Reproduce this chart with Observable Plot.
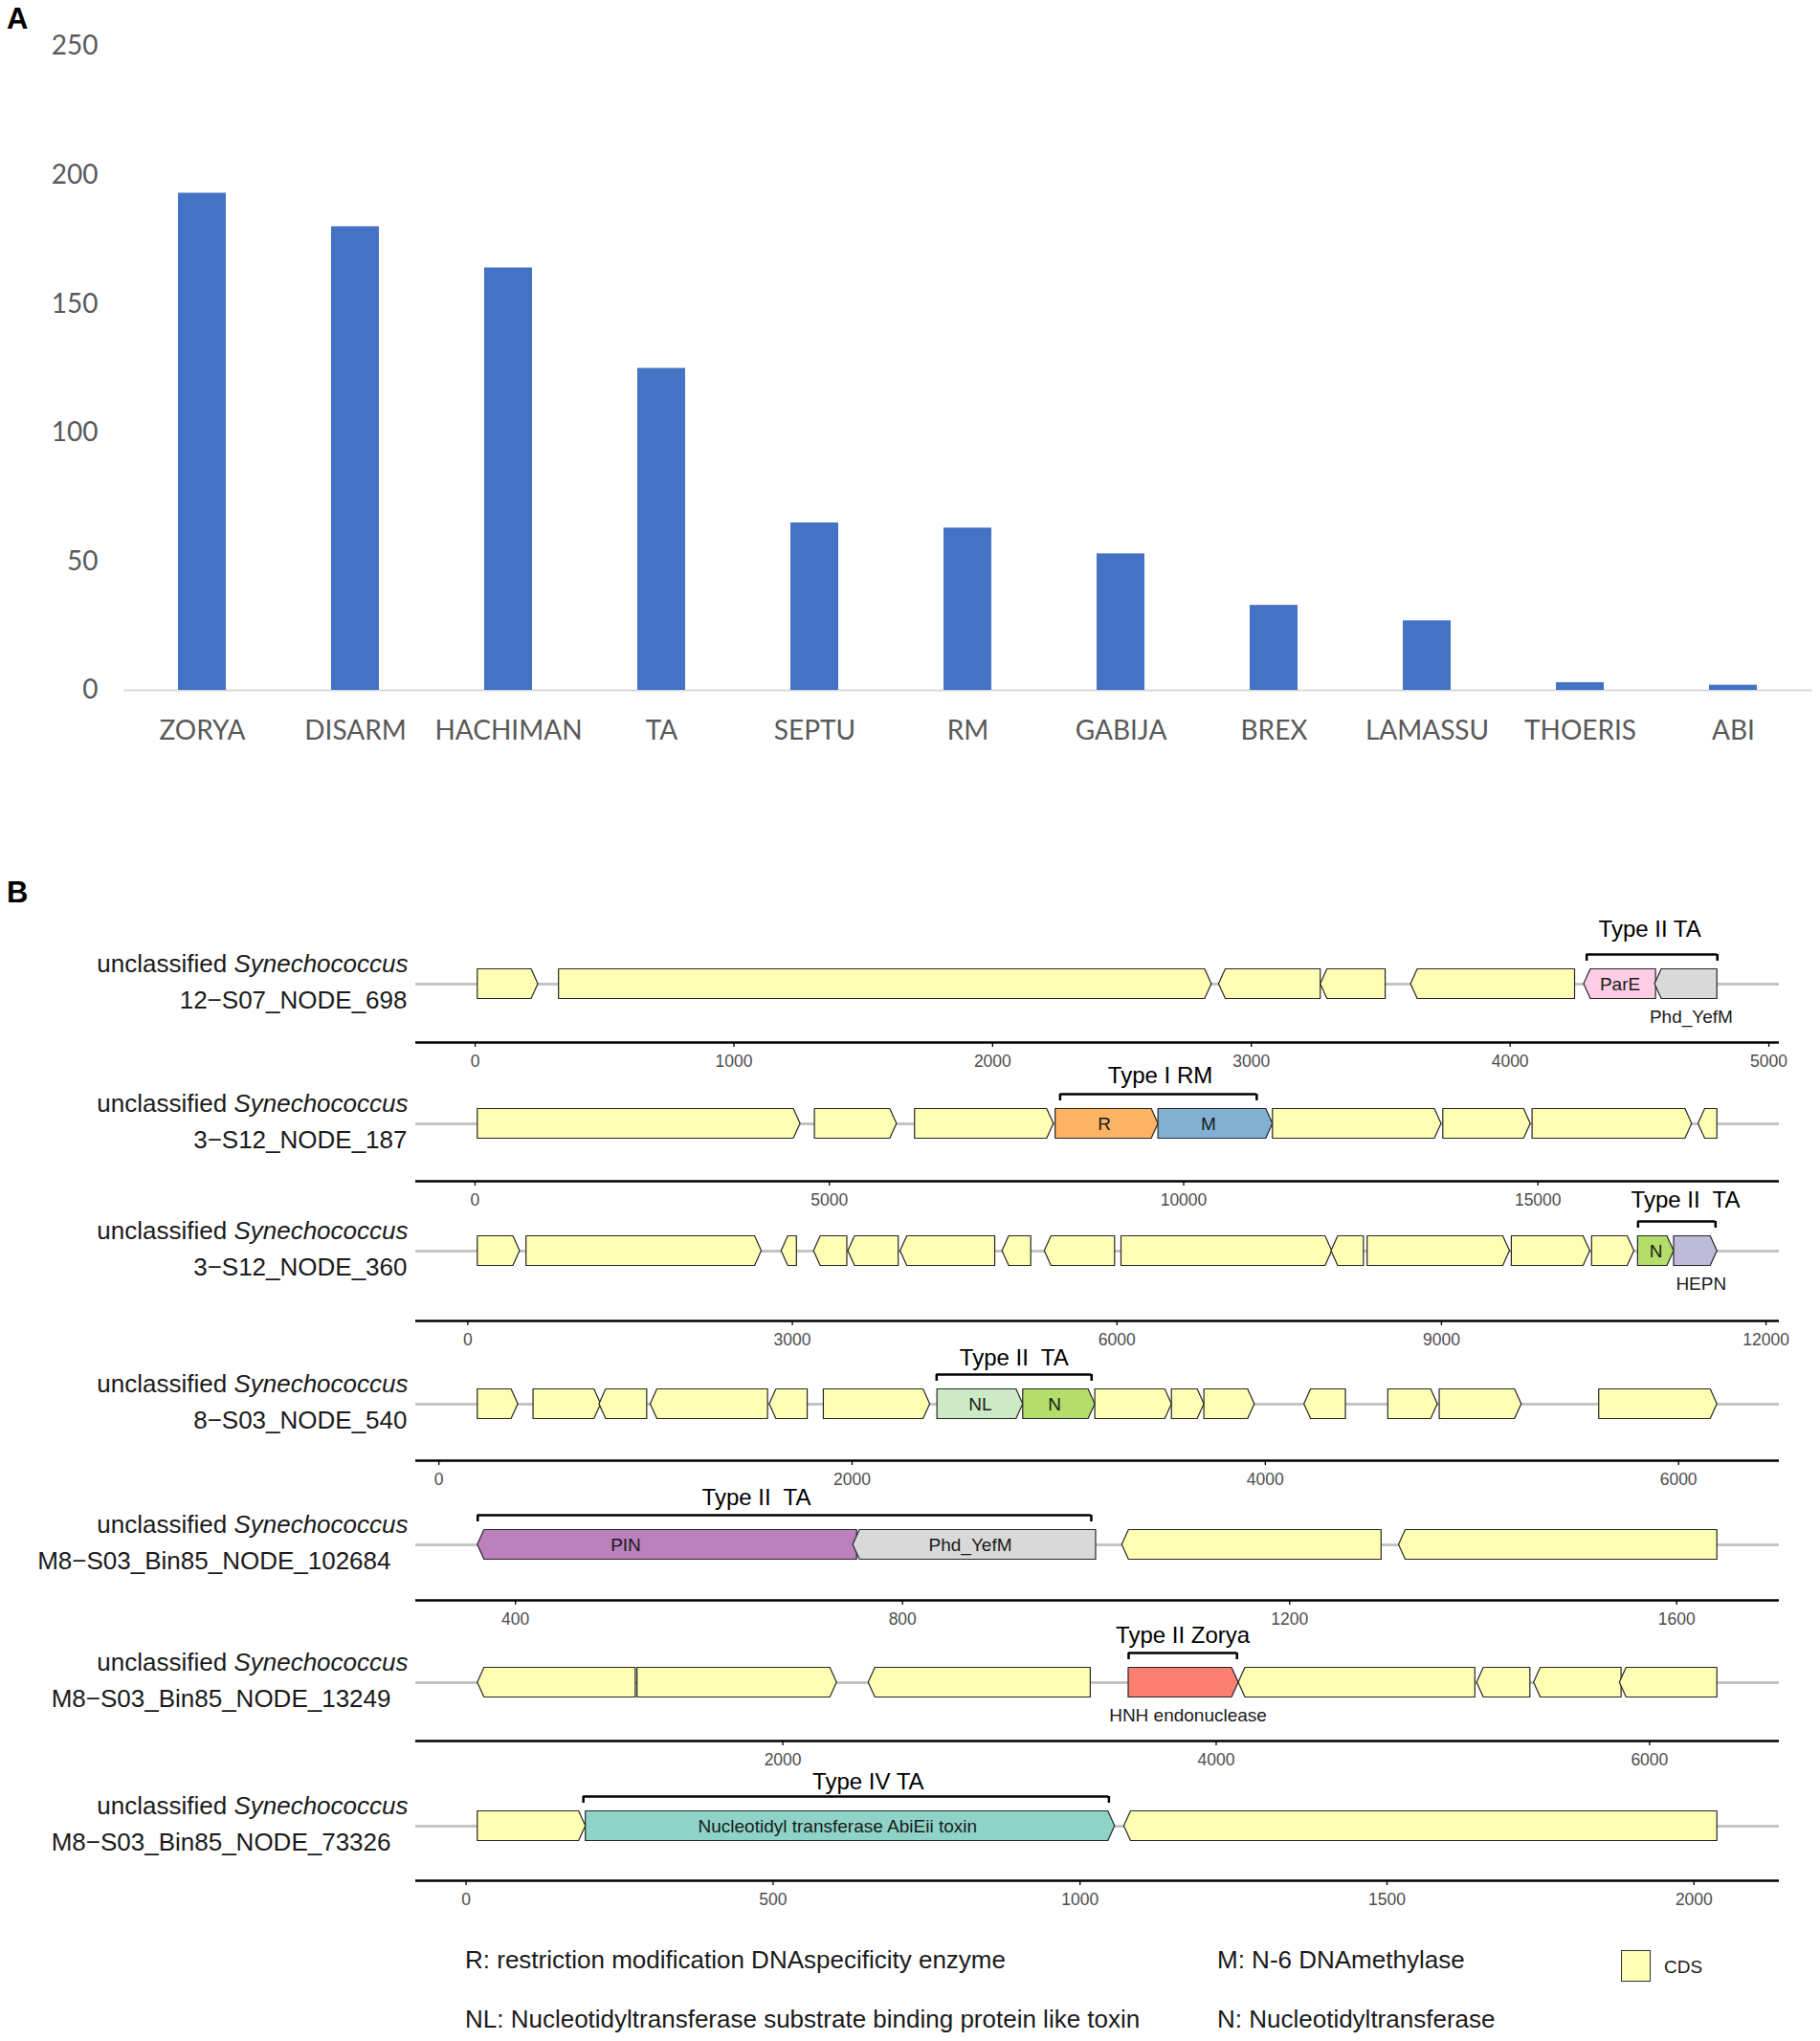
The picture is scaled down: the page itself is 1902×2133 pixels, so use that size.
<!DOCTYPE html>
<html>
<head>
<meta charset="utf-8">
<script src="https://cdn.jsdelivr.net/npm/d3@7"></script>
<script src="https://cdn.jsdelivr.net/npm/@observablehq/plot@0.6"></script>
<style>
  body { margin: 0; background: #fff; }
  #root { position: relative; width: 1902px; height: 2133px; overflow: hidden; background: #fff;
          font-family: "Liberation Sans", Arial, sans-serif; }
  .abs { position: absolute; }
  .panel { position: absolute; font: bold 31px "Liberation Sans", Arial, sans-serif; line-height: 1; color: #000; }
  .leg { position: absolute; font-size: 26px; line-height: 1; color: #1a1a1a; white-space: nowrap; }
</style>
</head>
<body>
<div id="root"></div>
<script>
// ---------------- DATA ----------------
// Panel A: number of defence systems per family
const categories = ["ZORYA", "DISARM", "HACHIMAN", "TA", "SEPTU", "RM", "GABIJA", "BREX", "LAMASSU", "THOERIS", "ABI"];
const counts = [193, 180, 164, 125, 65, 63, 53, 33, 27, 3, 2];
const countTicks = [0, 50, 100, 150, 200, 250];

// Panel B: contigs and their genes [start, end, strand, feature, (label position)]
const taxon = "unclassified Synechococcus";
const contigs = ["12−S07_NODE_698", "3−S12_NODE_187", "3−S12_NODE_360", "8−S03_NODE_540",
                 "M8−S03_Bin85_NODE_102684", "M8−S03_Bin85_NODE_13249", "M8−S03_Bin85_NODE_73326"];

const genes698 = [
  [10, 244, 1, "CDS"], [324, 2847, 1, "CDS"], [2875, 3268, -1, "CDS"], [3268, 3519, -1, "CDS"],
  [3617, 4251, -1, "CDS"], [4286, 4564, -1, "ParE"], [4560, 4801, -1, "Phd_YefM", 4700]
];
const genes187 = [
  [38, 4593, 1, "CDS"], [4796, 5954, 1, "CDS"], [6209, 8168, 1, "CDS"], [8193, 9644, 1, "R", 8880],
  [9644, 11260, 1, "M", 10350], [11260, 13639, 1, "CDS"], [13664, 14898, 1, "CDS"], [14924, 17176, 1, "CDS"],
  [17265, 17532, -1, "CDS"]
];
const genes360 = [
  [92, 483, 1, "CDS"], [542, 2717, 1, "CDS"], [2900, 3042, -1, "CDS"], [3200, 3508, -1, "CDS"],
  [3517, 3983, -1, "CDS"], [4000, 4875, -1, "CDS"], [4942, 5208, -1, "CDS"], [5333, 5983, -1, "CDS"],
  [6042, 7990, 1, "CDS"], [7983, 8283, -1, "CDS"], [8317, 9633, 1, "CDS"], [9650, 10375, 1, "CDS"],
  [10392, 10783, 1, "CDS"], [10817, 11150, 1, "N"], [11150, 11550, 1, "HEPN", 11400]
];
const genes540 = [
  [188, 384, 1, "CDS"], [458, 785, 1, "CDS"], [777, 1008, -1, "CDS"], [1025, 1593, -1, "CDS"],
  [1601, 1785, -1, "CDS"], [1863, 2378, 1, "CDS"], [2413, 2828, 1, "NL"], [2828, 3177, 1, "N", 2980],
  [3177, 3548, 1, "CDS"], [3548, 3705, 1, "CDS"], [3705, 3949, 1, "CDS"], [4189, 4390, -1, "CDS"],
  [4595, 4835, 1, "CDS"], [4844, 5241, 1, "CDS"], [5616, 6188, 1, "CDS"]
];
const genes102684 = [
  [361, 753, -1, "PIN", 514], [749, 1000, -1, "Phd_YefM", 870], [1027, 1295, -1, "CDS"], [1313, 1642, -1, "CDS"]
];
const genes13249 = [
  [592, 1321, -1, "CDS"], [1329, 2250, 1, "CDS"], [2396, 3421, -1, "CDS"], [3596, 4104, 1, "HNH endonuclease", 3870],
  [4104, 5196, -1, "CDS"], [5204, 5450, -1, "CDS"], [5467, 5871, -1, "CDS"], [5863, 6313, -1, "CDS"]
];
const genes73326 = [
  [19, 195, 1, "CDS"], [195, 1057, 1, "Nucleotidyl transferase AbiEii toxin", 605], [1072, 2038, -1, "CDS"]
];
const contigGenes = [genes698, genes187, genes360, genes540, genes102684, genes13249, genes73326];

const ticks698 = [0, 1000, 2000, 3000, 4000, 5000];
const ticks187 = [0, 5000, 10000, 15000];
const ticks360 = [0, 3000, 6000, 9000, 12000];
const ticks540 = [0, 2000, 4000, 6000];
const ticks102684 = [400, 800, 1200, 1600];
const ticks13249 = [2000, 4000, 6000];
const ticks73326 = [0, 500, 1000, 1500, 2000];
const contigTicks = [ticks698, ticks187, ticks360, ticks540, ticks102684, ticks13249, ticks73326];

const bracketStart = [4296, 8257, 10817, 2409, 361, 3596, 191];
const bracketEnd = [4801, 11031, 11533, 3159, 995, 4096, 1047];
const bracketLabel = ["Type II TA", "Type I RM", "Type II  TA", "Type II  TA", "Type II  TA", "Type II Zorya", "Type IV TA"];
const bracketLabelAt = [4540, 9670, 11256, 2784, 649, 3846, 655];

const legendNotes = [
  "R: restriction modification DNAspecificity enzyme",
  "M: N-6 DNAmethylase",
  "NL: Nucleotidyltransferase substrate binding protein like toxin",
  "N: Nucleotidyltransferase"
];

// ---------------- STYLE / LAYOUT ----------------
const featureColor = {
  "CDS": "#FFFFB3", "ParE": "#FCCDE5", "Phd_YefM": "#D9D9D9", "R": "#FDB462", "M": "#80B1D3",
  "N": "#B3DE69", "HEPN": "#BEBADA", "NL": "#CCEBC5", "PIN": "#BC80BD",
  "HNH endonuclease": "#FB8072", "Nucleotidyl transferase AbiEii toxin": "#8DD3C7"
};
const W = 1902, FRAME_L = 434, FRAME_R = 1859;
const HALF = 15.5;          // px, half height of a gene arrow
const FRAME_H = 126, MB = 40;
const trackAxisY = [1089, 1234, 1380, 1526, 1672, 1819, 1965];
const trackGap = [61, 60, 73, 59, 58, 61, 57];
const labelLift = [26, 19, 22, 17, 18, 18, 15];
const line2Dx = [-9, -9, -9, -9, -26, -26, -26];

const root = document.getElementById("root");
function place(el, top, left = 0) {
  const wrap = document.createElement("div");
  wrap.className = "abs";
  wrap.style.top = top + "px";
  wrap.style.left = left + "px";
  wrap.appendChild(el);
  root.appendChild(wrap);
}

const canvas = document.createElement("canvas");
const ctx = canvas.getContext("2d");
ctx.font = '19px "Liberation Sans"';
const measure = (s) => ctx.measureText(s).width;

// ---------------- PANEL A ----------------
const barData = categories.map((c, i) => ({category: c, count: counts[i]}));
const chartA = Plot.plot({
  width: W, height: 800,
  marginLeft: 129, marginRight: 8, marginTop: 48, marginBottom: 79,
  x: {domain: categories, paddingInner: 0.686, paddingOuter: 0.343},
  y: {domain: [0, 250]},
  style: {fontFamily: "Lato, 'Open Sans', sans-serif", background: "transparent", overflow: "visible"},
  marks: [
    Plot.ruleY([0], {stroke: "#d9d9d9", strokeWidth: 2}),
    Plot.barY(barData, {x: "category", y: "count", fill: "#4472C4"}),
    Plot.axisY({ticks: countTicks, tickSize: 0, tickPadding: 27, fontSize: 28, fill: "#595959", label: null}),
    Plot.axisX({tickSize: 0, tickPadding: 32, fontSize: 28, fill: "#595959", label: null})
  ]
});
place(chartA, 0);

// ---------------- PANEL B ----------------
function makeTrack(i) {
  const genes = contigGenes[i].map(([start, end, strand, feature, labelAt], k) =>
    ({id: k, start, end, strand, feature, labelAt: labelAt ?? (start + end) / 2}));
  const lo = d3.min(genes, d => d.start), hi = d3.max(genes, d => d.end);
  const pad = (hi - lo) * 0.05;
  const xdom = [lo - pad, hi + pad];
  const bpPerPx = (xdom[1] - xdom[0]) / (FRAME_R - FRAME_L);
  const head = 7 * bpPerPx;
  const gap = trackGap[i];
  const ydom = [-gap / HALF, (FRAME_H - gap) / HALF];

  const pts = genes.flatMap(g => {
    const h = Math.min(head, g.end - g.start);
    const fill = featureColor[g.feature];
    if (g.strand > 0) return [
      {id: g.id, x: g.start, y1: -1, y2: 1, fill},
      {id: g.id, x: g.end - h, y1: -1, y2: 1, fill},
      {id: g.id, x: g.end, y1: 0, y2: 0, fill}
    ];
    return [
      {id: g.id, x: g.start, y1: 0, y2: 0, fill},
      {id: g.id, x: g.start + h, y1: -1, y2: 1, fill},
      {id: g.id, x: g.end, y1: -1, y2: 1, fill}
    ];
  });
  const labelled = genes.filter(g => g.feature !== "CDS").map(g => ({
    ...g, fits: measure(g.feature) + 10 <= (g.end - g.start) / bpPerPx
  }));
  const br = {start: bracketStart[i], end: bracketEnd[i], label: bracketLabel[i], at: bracketLabelAt[i]};
  const tipDrop = 7 / HALF;

  const svg = Plot.plot({
    width: W, height: FRAME_H + MB,
    marginLeft: FRAME_L, marginRight: W - FRAME_R, marginTop: 0, marginBottom: MB,
    x: {domain: xdom},
    y: {domain: ydom, axis: null},
    color: {type: "identity"},
    style: {fontFamily: "'Liberation Sans', Arial, sans-serif", background: "transparent", overflow: "visible", whiteSpace: "pre"},
    marks: [
      Plot.ruleY([0], {stroke: "#c4c4c4", strokeWidth: 3}),
      Plot.ruleY([ydom[0]], {stroke: "#000", strokeWidth: 2.5}),
      Plot.axisX({ticks: contigTicks[i], tickFormat: d => String(d), tickSize: 5, tickPadding: 8,
                  fontSize: 17.5, fill: "#4d4d4d", stroke: "#000", strokeWidth: 1.3, label: null}),
      Plot.area(pts, {x1: "x", y1: "y1", y2: "y2", z: "id", fill: "fill",
                      stroke: "#262626", strokeWidth: 1.2, curve: "linear"}),
      Plot.text(labelled.filter(d => d.fits), {x: "labelAt", y: () => 0, text: "feature", fontSize: 19, fill: "#1a1a1a"}),
      Plot.text(labelled.filter(d => !d.fits), {x: "labelAt", y: () => 0, dy: 34, text: "feature", fontSize: 19, fill: "#1a1a1a"}),
      Plot.ruleY([br], {x1: "start", x2: "end", y: () => 2, stroke: "#000", strokeWidth: 2.5}),
      Plot.ruleX([br.start, br.end], {x: d => d, y1: () => 2, y2: () => 2 - tipDrop, stroke: "#000", strokeWidth: 2.5}),
      Plot.text([br], {x: "at", y: () => 2, dy: -labelLift[i], text: "label", fontSize: 24, fill: "#000"}),
      Plot.text([taxon], {frameAnchor: "left", y: () => 0, dx: -8, dy: -21, text: d => d,
                          textAnchor: "end", fontSize: 26, fill: "#1a1a1a"}),
      Plot.text([contigs[i]], {frameAnchor: "left", y: () => 0, dx: line2Dx[i], dy: 17, text: d => d,
                               textAnchor: "end", fontSize: 26, fill: "#1a1a1a"})
    ]
  });
  // italicise the genus name
  svg.querySelectorAll("text").forEach(t => {
    if (t.textContent === taxon) {
      t.textContent = "";
      const ns = "http://www.w3.org/2000/svg";
      const a = document.createElementNS(ns, "tspan");
      a.textContent = "unclassified ";
      const b = document.createElementNS(ns, "tspan");
      b.textContent = "Synechococcus";
      b.setAttribute("font-style", "italic");
      t.appendChild(a); t.appendChild(b);
    }
  });
  return svg;
}

contigs.forEach((c, i) => place(makeTrack(i), trackAxisY[i] - FRAME_H));

// ---------------- PANEL LABELS & LEGEND ----------------
function addDiv(cls, text, left, top, extra = {}) {
  const d = document.createElement("div");
  d.className = cls;
  d.textContent = text;
  d.style.left = left + "px";
  d.style.top = top + "px";
  Object.assign(d.style, extra);
  root.appendChild(d);
  return d;
}
addDiv("panel", "A", 7, 4);
addDiv("panel", "B", 7, 917);

addDiv("leg", legendNotes[0], 486, 2035);
addDiv("leg", legendNotes[1], 1272, 2035);
addDiv("leg", legendNotes[2], 486, 2097);
addDiv("leg", legendNotes[3], 1272, 2097);

const sw = document.createElement("div");
Object.assign(sw.style, {position: "absolute", left: "1694px", top: "2038px", width: "29px", height: "31px",
  background: featureColor["CDS"], border: "1.5px solid #333"});
root.appendChild(sw);
addDiv("leg", "CDS", 1739, 2046, {fontSize: "19px"});
</script>
</body>
</html>
